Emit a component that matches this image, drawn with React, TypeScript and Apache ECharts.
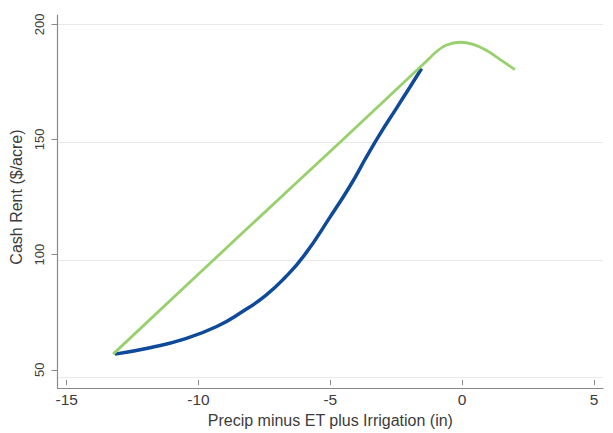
import React, { useEffect, useRef } from "react";
import * as echarts from "echarts";

// ---- data ----
const xTicks = [-15, -10, -5, 0, 5];
const yTicks = [50, 100, 150, 200];

const blueX = [-13.17, -11.84, -10.58, -9.31, -8.3, -7.46, -6.7, -5.97, -5.0, -4.26, -3.63, -3.12, -2.49, -1.98, -1.54];
const blueY = [56.8, 59.6, 63.2, 68.8, 75.5, 82.2, 90.3, 100.0, 116.5, 129.7, 142.4, 152.3, 163.6, 172.8, 180.8];

const greenX = [-13.24, -8.4, -4.52, -1.41, -0.97, -0.59, -0.09, 0.42, 0.93, 1.43, 2.0];
const greenY = [56.8, 108.7, 150.0, 183.4, 188.2, 191.0, 192.2, 191.3, 188.6, 184.8, 180.3];

const xName = "Precip minus ET plus Irrigation (in)";
const yName = "Cash Rent ($/acre)";

// ---- layout / style ----
const W = 613;
const H = 433;
const plot = { left: 66.7, right: 19, top: 24.3, bottom: 55.3 };
const frame = { left: 57.5, right: 10, top: 15, bottom: 45 };
const FONT = 'Arial, "Liberation Sans", Helvetica, sans-serif';
const TEXT = "#3c3c3c";
const AXIS = "#8a8a8a";
const GRIDC = "#e8e8e8";
const BLUE = "#0e4a99";
const GREEN = "#98d06e";

export default function App() {
  const ref = useRef<HTMLDivElement>(null);
  useEffect(() => {
    if (!ref.current) return;
    const chart = echarts.init(ref.current, undefined, { renderer: "svg" });
    const xMin = xTicks[0];
    const xMax = xTicks[xTicks.length - 1];
    const yMin = yTicks[0];
    const yMax = yTicks[yTicks.length - 1];
    const pxX = (W - plot.left - plot.right) / (xMax - xMin);
    const pxY = (H - plot.top - plot.bottom) / (yMax - yMin);
    const fXMin = xMin - (plot.left - frame.left) / pxX;
    const fXMax = xMax + (plot.right - frame.right) / pxX;
    const fYMin = yMin - (plot.bottom - frame.bottom) / pxY;
    const fYMax = yMax + (plot.top - frame.top) / pxY;

    chart.setOption({
      animation: false,
      backgroundColor: "#ffffff",
      grid: [
        { left: plot.left, right: plot.right, top: plot.top, bottom: plot.bottom },
        { left: frame.left, right: frame.right, top: frame.top, bottom: frame.bottom },
      ],
      xAxis: [
        {
          gridIndex: 0,
          type: "value",
          min: xMin,
          max: xMax,
          interval: 5,
          offset: plot.bottom - frame.bottom,
          axisLine: { show: false, onZero: false },
          axisTick: { show: true, length: 5, lineStyle: { color: AXIS, width: 1 } },
          axisLabel: { margin: 11, fontSize: 15.5, color: TEXT, fontFamily: FONT },
          splitLine: { show: false },
          name: xName,
          nameLocation: "middle",
          nameGap: 21,
          nameTextStyle: { fontSize: 16, color: TEXT, fontFamily: FONT },
        },
        {
          gridIndex: 1,
          type: "value",
          min: fXMin,
          max: fXMax,
          axisLine: { show: true, onZero: false, lineStyle: { color: AXIS, width: 1.2 } },
          axisTick: { show: false },
          axisLabel: { show: false },
          splitLine: { show: false },
        },
      ],
      yAxis: [
        {
          gridIndex: 0,
          type: "value",
          min: yMin,
          max: yMax,
          interval: 50,
          offset: plot.left - frame.left,
          axisLine: { show: false, onZero: false },
          axisTick: { show: true, length: 6, lineStyle: { color: AXIS, width: 1 } },
          axisLabel: { rotate: 90, margin: 12, fontSize: 13, color: TEXT, fontFamily: FONT },
          splitLine: { show: false },
          name: yName,
          nameLocation: "middle",
          nameGap: 28,
          nameTextStyle: { fontSize: 16, color: TEXT, fontFamily: FONT },
        },
        {
          gridIndex: 1,
          type: "value",
          min: fYMin,
          max: fYMax,
          splitNumber: 3,
          axisLine: { show: true, onZero: false, lineStyle: { color: AXIS, width: 1.2 } },
          axisTick: { show: false },
          axisLabel: { show: false },
          splitLine: {
            show: true,
            showMinLine: false,
            showMaxLine: false,
            lineStyle: { color: GRIDC, width: 1.2 },
          },
        },
      ],
      series: [
        {
          type: "line",
          xAxisIndex: 0,
          yAxisIndex: 0,
          data: blueX.map((x, i) => [x, blueY[i]]),
          symbol: "none",
          smooth: 0.5,
          lineStyle: { color: BLUE, width: 3.5 },
          z: 2,
        },
        {
          type: "line",
          xAxisIndex: 0,
          yAxisIndex: 0,
          data: greenX.map((x, i) => [x, greenY[i]]),
          symbol: "none",
          smooth: 0.35,
          lineStyle: { color: GREEN, width: 2.8 },
          z: 3,
        },
      ],
    });
    return () => chart.dispose();
  }, []);
  return (
    <div
      ref={ref}
      style={{ position: "fixed", left: 0, top: 0, width: W, height: H, background: "#fff" }}
    />
  );
}
